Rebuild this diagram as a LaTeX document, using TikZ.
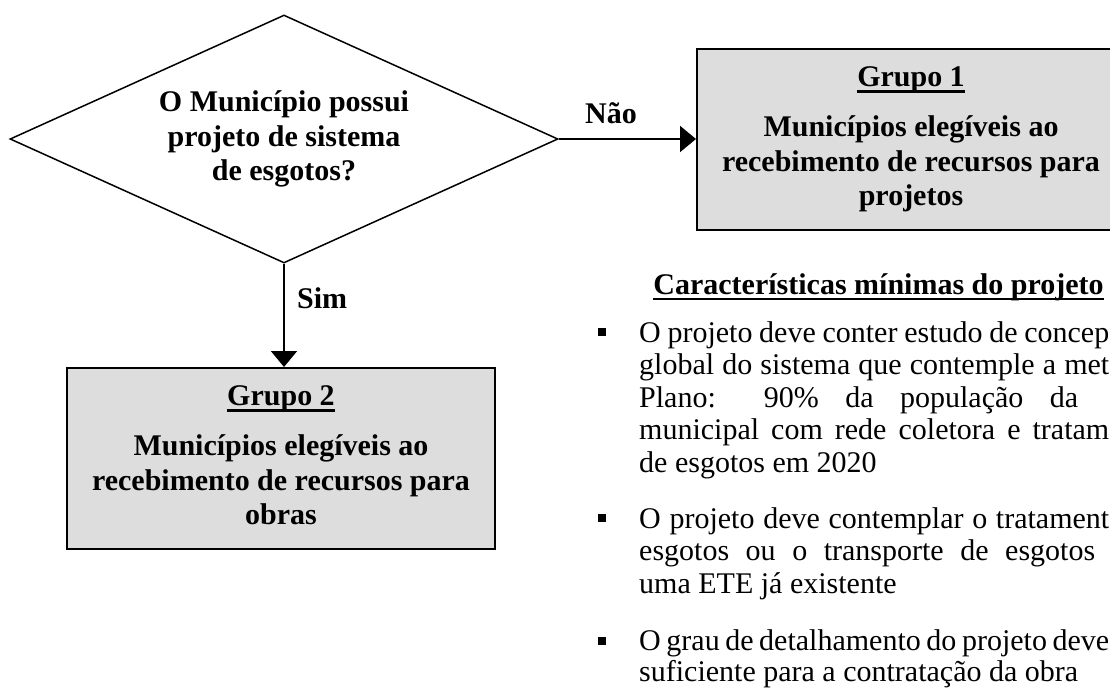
\documentclass[tikz,border=0pt]{standalone}
\usepackage{fontspec}
\setmainfont{Liberation Serif}
\usetikzlibrary{shapes.geometric,arrows.meta}
\definecolor{boxgray}{RGB}{221,221,221}
\newcommand\wul[1]{\setbox0=\hbox{#1}\rlap{\rule[-6pt]{\wd0}{2.4pt}}\box0}
\newcommand\bfs{\fontsize{30pt}{34.5pt}\selectfont\bfseries}
\newcommand\rgs{\fontsize{30pt}{32.5pt}\selectfont}
\begin{document}
\begin{tikzpicture}[x=1pt,y=-1pt,
  dia/.style={diamond, draw, line width=1.5pt, inner sep=0pt, minimum width=548pt, minimum height=248pt, aspect=2.2, align=center, font=\bfs},
  grp/.style={rectangle, draw, line width=2pt, fill=boxgray, minimum width=428pt, minimum height=181pt, inner sep=0pt, align=center, font=\bfs, text depth=6.5pt},
  conn/.style={line width=2pt, -{Triangle[length=16pt,width=26pt]}},
  lbl/.style={inner sep=0pt, font=\bfs},
  txt/.style={inner sep=0pt, anchor=base west, font=\rgs},
  bul/.style={fill=black, inner sep=0pt, minimum size=8pt}]
\useasboundingbox (0,0) rectangle (1110,688);
\clip (0,0) rectangle (1110,688);
\node[dia] (q) at (284,139) {O Município possui\\projeto de sistema\\de esgotos?};
\node[grp] (g1) at (911,139.5) {\wul{Grupo 1}\\[15.5pt]Municípios elegíveis ao\\recebimento de recursos para\\projetos};
\node[grp] (g2) at (281,458.5) {\wul{Grupo 2}\\[15.5pt]Municípios elegíveis ao\\recebimento de recursos para\\obras};
\draw[conn] (q.east) -- (q.east -| g1.west);
\draw[conn] (q.south) -- (q.south |- g2.north);
\node[lbl, anchor=base] (nao) at (611,123) {Não};
\node[lbl, anchor=base west] (sim) at (297,308) {Sim};
\node[lbl, anchor=base] (head) at (878.5,294) {\wul{Características mínimas do projeto}};
% bullet 1
\node[bul] (s1) at (602,332) {};
\node[txt] (p1a) at (639,342) {\makebox[470pt][s]{O projeto deve conter estudo de concep}};
\node[txt] (p1b) at (639,374.5) {\makebox[470pt][s]{global do sistema que contemple a met}};
\node[txt] (p1c) at (639,407) {\makebox[439pt][s]{Plano: 90\% da população da}};
\node[txt] (p1d) at (639,439.5) {\makebox[470pt][s]{municipal com rede coletora e tratam}};
\node[txt] (p1e) at (639,472) {de esgotos em 2020};
% bullet 2
\node[bul] (s2) at (602,518) {};
\node[txt] (p2a) at (639,528) {\makebox[470pt][s]{O projeto deve contemplar o tratament}};
\node[txt] (p2b) at (639,560.5) {\makebox[456pt][s]{esgotos ou o transporte de esgotos}};
\node[txt] (p2c) at (639,593) {uma ETE já existente};
% bullet 3
\node[bul] (s3) at (602,640.5) {};
\node[txt] (p3a) at (639,650.5) {\makebox[470pt][s]{O grau de detalhamento do projeto deve}};
\node[txt] (p3b) at (639,681) {suficiente para a contratação da obra};
\end{tikzpicture}
\end{document}
